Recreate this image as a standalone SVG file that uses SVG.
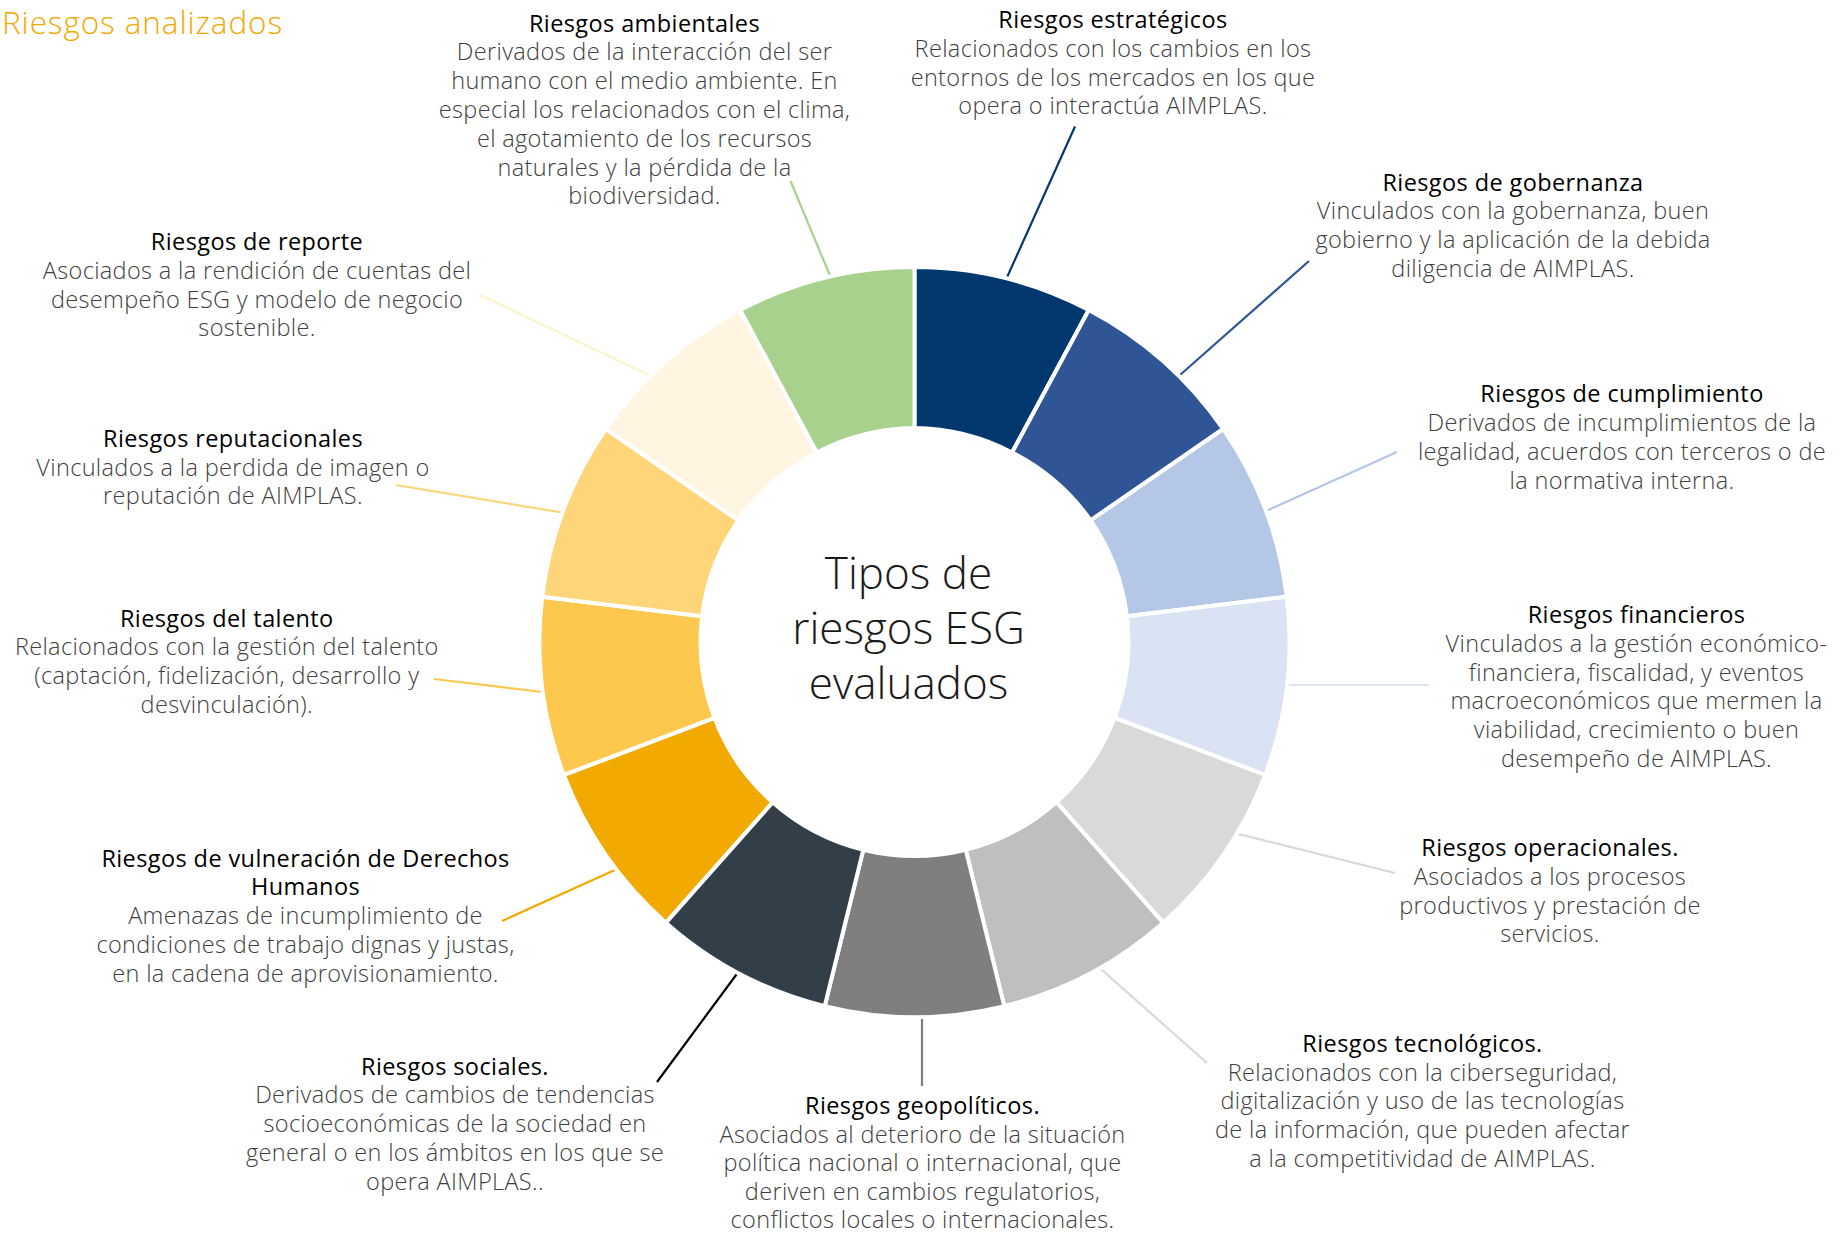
<svg xmlns="http://www.w3.org/2000/svg" width="1845" height="1235" viewBox="0 0 1845 1235">
<style>
  text { font-family: "Open Sans", "Lato", "Liberation Sans", sans-serif; text-anchor: middle; }
  .h { font-size: 23.5px; font-weight: 400; fill: #000000; letter-spacing: 0.4px; }
  .b { font-size: 23.5px; font-weight: 300; fill: #404040; letter-spacing: 0.35px; }
  .seg { stroke: #ffffff; stroke-width: 4; stroke-linejoin: miter; }
  .ln { fill: none; stroke-width: 2.2; }
  .title { font-size: 31.5px; font-weight: 300; fill: #F2A900; text-anchor: start; letter-spacing: 0.9px; }
  .center { font-size: 44px; font-weight: 300; fill: #1a1a1a; }
</style>
<rect x="0" y="0" width="1845" height="1235" fill="#ffffff"/>
<text class="title" x="2" y="34">Riesgos analizados</text>

<g id="connectors">
  <line class="ln" stroke="#02386E" x1="1075" y1="126.5" x2="1006.7" y2="278"/>
  <line class="ln" stroke="#2F5597" x1="1309" y1="261" x2="1180" y2="375"/>
  <line class="ln" stroke="#B4C7E7" x1="1397" y1="452" x2="1266" y2="511"/>
  <line class="ln" stroke="#DAE3F3" x1="1429" y1="685" x2="1285" y2="685"/>
  <line class="ln" stroke="#D9D9D9" x1="1395" y1="873" x2="1238" y2="834"/>
  <line class="ln" stroke="#D9D9D9" x1="1207" y1="1063" x2="1093" y2="962"/>
  <line class="ln" stroke="#7F7F7F" x1="922" y1="1086" x2="922" y2="1012"/>
  <line class="ln" stroke="#000000" x1="657" y1="1082" x2="739" y2="971"/>
  <line class="ln" stroke="#F2A900" x1="502" y1="921" x2="617" y2="869"/>
  <line class="ln" stroke="#FEC84E" x1="434" y1="679" x2="542" y2="692"/>
  <line class="ln" stroke="#FFD579" x1="396" y1="485" x2="565" y2="513"/>
  <line class="ln" stroke="#FFF2CC" x1="480" y1="295" x2="653" y2="377"/>
  <line class="ln" stroke="#A9D18E" x1="790.5" y1="181" x2="831" y2="278"/>
</g>

<g id="estrategicos">
  <path class="seg" fill="#02386E" d="M914.5,267 A375,375 0 0 1 1088.77,309.95 L1012.1,452.5 A214,214 0 0 0 914.5,428 Z"/>
  <text class="h" x="1113" y="28">Riesgos estratégicos</text>
  <text class="b" x="1113" y="56.8">Relacionados con los cambios en los</text>
  <text class="b" x="1113" y="85.6">entornos de los mercados en los que</text>
  <text class="b" x="1113" y="114.4">opera o interactúa AIMPLAS.</text>
</g>

<g id="gobernanza">
  <path class="seg" fill="#2F5597" d="M1088.77,309.95 A375,375 0 0 1 1223.12,428.98 L1090.6,520.4 A214,214 0 0 0 1012.1,452.5 Z"/>
  <text class="h" x="1513" y="190.5">Riesgos de gobernanza</text>
  <text class="b" x="1513" y="219.3">Vinculados con la gobernanza, buen</text>
  <text class="b" x="1513" y="248.1">gobierno y la aplicación de la debida</text>
  <text class="b" x="1513" y="276.9">diligencia de AIMPLAS.</text>
</g>

<g id="cumplimiento">
  <path class="seg" fill="#B4C7E7" d="M1223.12,428.98 A375,375 0 0 1 1286.77,596.80 L1126.9,616.2 A214,214 0 0 0 1090.6,520.4 Z"/>
  <text class="h" x="1622" y="402.3">Riesgos de cumplimiento</text>
  <text class="b" x="1622" y="431.1">Derivados de incumplimientos de la</text>
  <text class="b" x="1622" y="459.9">legalidad, acuerdos con terceros o de</text>
  <text class="b" x="1622" y="488.7">la normativa interna.</text>
</g>

<g id="financieros">
  <path class="seg" fill="#DAE3F3" d="M1286.77,596.80 A375,375 0 0 1 1265.13,774.98 L1114.6,717.9 A214,214 0 0 0 1126.9,616.2 Z"/>
  <text class="h" x="1636.5" y="623">Riesgos financieros</text>
  <text class="b" x="1636.5" y="651.8">Vinculados a la gestión económico-</text>
  <text class="b" x="1636.5" y="680.6">financiera, fiscalidad, y eventos</text>
  <text class="b" x="1636.5" y="709.4">macroeconómicos que mermen la</text>
  <text class="b" x="1636.5" y="738.2">viabilidad, crecimiento o buen</text>
  <text class="b" x="1636.5" y="767">desempeño de AIMPLAS.</text>
</g>

<g id="operacionales">
  <path class="seg" fill="#D9D9D9" d="M1265.13,774.98 A375,375 0 0 1 1163.17,922.69 L1056.4,802.2 A214,214 0 0 0 1114.6,717.9 Z"/>
  <text class="h" x="1550" y="856">Riesgos operacionales.</text>
  <text class="b" x="1550" y="884.8">Asociados a los procesos</text>
  <text class="b" x="1550" y="913.6">productivos y prestación de</text>
  <text class="b" x="1550" y="942.4">servicios.</text>
</g>

<g id="tecnologicos">
  <path class="seg" fill="#BFBFBF" d="M1163.17,922.69 A375,375 0 0 1 1004.25,1006.10 L965.7,849.8 A214,214 0 0 0 1056.4,802.2 Z"/>
  <text class="h" x="1422.5" y="1051.7">Riesgos tecnológicos.</text>
  <text class="b" x="1422.5" y="1080.5">Relacionados con la ciberseguridad,</text>
  <text class="b" x="1422.5" y="1109.3">digitalización y uso de las tecnologías</text>
  <text class="b" x="1422.5" y="1138.1">de la información, que pueden afectar</text>
  <text class="b" x="1422.5" y="1166.9">a la competitividad de AIMPLAS.</text>
</g>

<g id="geopoliticos">
  <path class="seg" fill="#7F7F7F" d="M1004.25,1006.10 A375,375 0 0 1 824.75,1006.10 L863.3,849.8 A214,214 0 0 0 965.7,849.8 Z"/>
  <text class="h" x="922.5" y="1114">Riesgos geopolíticos.</text>
  <text class="b" x="922.5" y="1142.5">Asociados al deterioro de la situación</text>
  <text class="b" x="922.5" y="1171">política nacional o internacional, que</text>
  <text class="b" x="922.5" y="1199.5">deriven en cambios regulatorios,</text>
  <text class="b" x="922.5" y="1228">conflictos locales o internacionales.</text>
</g>

<g id="sociales">
  <path class="seg" fill="#333F48" d="M824.75,1006.10 A375,375 0 0 1 665.83,922.69 L772.6,802.2 A214,214 0 0 0 863.3,849.8 Z"/>
  <text class="h" x="455" y="1074.5">Riesgos sociales.</text>
  <text class="b" x="455" y="1103.3">Derivados de cambios de tendencias</text>
  <text class="b" x="455" y="1132.1">socioeconómicas de la sociedad en</text>
  <text class="b" x="455" y="1160.9">general o en los ámbitos en los que se</text>
  <text class="b" x="455" y="1189.7">opera AIMPLAS..</text>
</g>

<g id="derechos-humanos">
  <path class="seg" fill="#F2A900" d="M665.83,922.69 A375,375 0 0 1 563.87,774.98 L714.4,717.9 A214,214 0 0 0 772.6,802.2 Z"/>
  <text class="h" x="305.5" y="866.5">Riesgos de vulneración de Derechos</text>
  <text class="h" x="305.5" y="895.3">Humanos</text>
  <text class="b" x="305.5" y="924.1">Amenazas de incumplimiento de</text>
  <text class="b" x="305.5" y="952.9">condiciones de trabajo dignas y justas,</text>
  <text class="b" x="305.5" y="981.7">en la cadena de aprovisionamiento.</text>
</g>

<g id="talento">
  <path class="seg" fill="#FEC84E" d="M563.87,774.98 A375,375 0 0 1 542.23,596.80 L702.1,616.2 A214,214 0 0 0 714.4,717.9 Z"/>
  <text class="h" x="226.8" y="626.5">Riesgos del talento</text>
  <text class="b" x="226.8" y="655.3">Relacionados con la gestión del talento</text>
  <text class="b" x="226.8" y="684.1">(captación, fidelización, desarrollo y</text>
  <text class="b" x="226.8" y="712.9">desvinculación).</text>
</g>

<g id="reputacionales">
  <path class="seg" fill="#FFD579" d="M542.23,596.80 A375,375 0 0 1 605.88,428.98 L738.4,520.4 A214,214 0 0 0 702.1,616.2 Z"/>
  <text class="h" x="233" y="446.7">Riesgos reputacionales</text>
  <text class="b" x="233" y="475.5">Vinculados a la perdida de imagen o</text>
  <text class="b" x="233" y="504.3">reputación de AIMPLAS.</text>
</g>

<g id="reporte">
  <path class="seg" fill="#FFF5E1" d="M605.88,428.98 A375,375 0 0 1 740.23,309.95 L816.9,452.5 A214,214 0 0 0 738.4,520.4 Z"/>
  <text class="h" x="257" y="250">Riesgos de reporte</text>
  <text class="b" x="257" y="278.8">Asociados a la rendición de cuentas del</text>
  <text class="b" x="257" y="307.6">desempeño ESG y modelo de negocio</text>
  <text class="b" x="257" y="336.4">sostenible.</text>
</g>

<g id="ambientales">
  <path class="seg" fill="#A9D18E" d="M740.23,309.95 A375,375 0 0 1 914.5,267 L914.5,428 A214,214 0 0 0 816.9,452.5 Z"/>
  <text class="h" x="644.5" y="31.5">Riesgos ambientales</text>
  <text class="b" x="644.5" y="60.3">Derivados de la interacción del ser</text>
  <text class="b" x="644.5" y="89.1">humano con el medio ambiente. En</text>
  <text class="b" x="644.5" y="117.9">especial los relacionados con el clima,</text>
  <text class="b" x="644.5" y="146.7">el agotamiento de los recursos</text>
  <text class="b" x="644.5" y="175.5">naturales y la pérdida de la</text>
  <text class="b" x="644.5" y="204.3">biodiversidad.</text>
</g>

<g id="centro">
  <text class="center" x="908.5" y="589">Tipos de</text>
  <text class="center" x="908.5" y="644">riesgos ESG</text>
  <text class="center" x="908.5" y="699">evaluados</text>
</g>
</svg>
